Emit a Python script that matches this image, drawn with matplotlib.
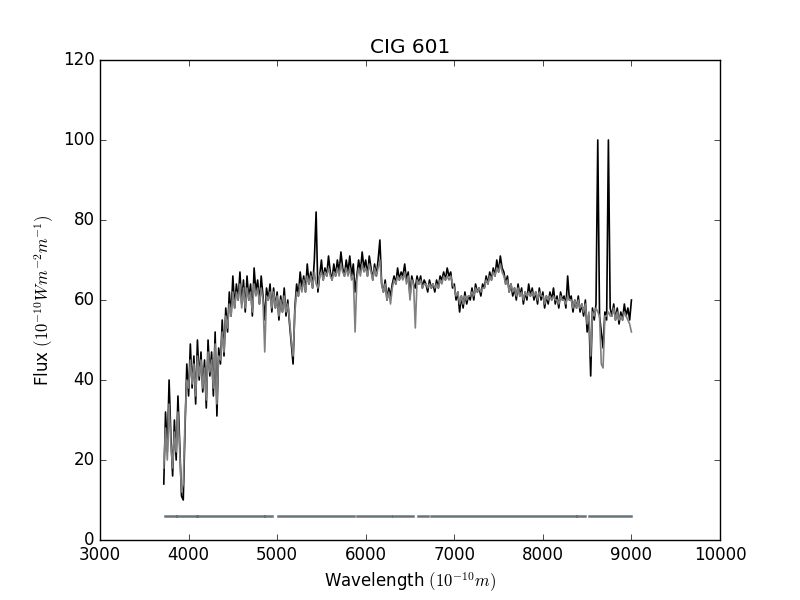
import numpy as np
import matplotlib
matplotlib.use('Agg')
import matplotlib.pyplot as plt

plt.style.use('classic')

# comprimento de onda (Angstrom), passo de 20
wl_start = 3720
wl_step = 20

# espectro observado (preto)
flux_obs = [
    14, 32, 22, 40, 26, 16, 30, 20, 36, 24,
    11, 10, 28, 44, 36, 49, 38, 46, 34, 50,
    40, 47, 37, 45, 33, 50, 41, 47, 36, 52,
    31, 48, 44, 55, 46, 58, 52, 62, 56, 66,
    58, 64, 60, 67, 59, 65, 57, 66, 60, 64,
    56, 68, 62, 65, 59, 66, 61, 55, 63, 60,
    64, 57, 63, 58, 62, 55, 61, 57, 63, 56,
    60, 54, 49, 44, 58, 64, 61, 67, 63, 66,
    62, 69, 64, 67, 63, 70, 82, 62, 66, 70,
    65, 68, 66, 71, 67, 65, 69, 66, 70, 67,
    72, 68, 66, 70, 67, 71, 66, 69, 62, 66,
    70, 67, 72, 68, 70, 66, 71, 68, 65, 69,
    66, 70, 75, 64, 62, 65, 60, 63, 61, 64,
    66, 64, 68, 65, 67, 66, 69, 65, 67, 61,
    66, 64, 63, 66, 64, 66, 63, 65, 64, 62,
    65, 63, 64, 62, 65, 63, 66, 65, 67, 65,
    68, 66, 67, 63, 64, 60, 62, 57, 61, 58,
    62, 59, 61, 60, 63, 60, 64, 62, 63, 61,
    64, 63, 66, 64, 67, 65, 68, 66, 70, 67,
    71, 68, 67, 64, 66, 62, 64, 61, 63, 60,
    64, 61, 63, 59, 62, 60, 64, 61, 63, 60,
    62, 59, 63, 60, 62, 58, 61, 59, 62, 60,
    63, 59, 61, 58, 62, 60, 61, 58, 66, 60,
    61, 57, 60, 58, 61, 57, 59, 56, 60, 52,
    56, 41, 58, 55, 59, 100, 56, 52, 48, 57,
    55, 100, 58, 56, 59, 55, 58, 54, 57, 55,
    59, 56, 58, 55, 60,
]

# modelo ajustado (cinza)
flux_mod = [
    18, 28, 20, 34, 24, 18, 27, 22, 32, 22,
    12, 14, 30, 40, 38, 45, 39, 44, 36, 46,
    41, 45, 38, 43, 35, 47, 42, 45, 38, 49,
    34, 46, 45, 52, 47, 56, 53, 59, 56, 62,
    58, 62, 60, 64, 58, 63, 58, 63, 60, 62,
    57, 64, 61, 63, 59, 63, 60, 47, 61, 60,
    62, 58, 62, 58, 61, 56, 60, 57, 61, 57,
    59, 55, 50, 46, 57, 62, 61, 64, 62, 65,
    62, 66, 64, 66, 63, 67, 64, 63, 66, 67,
    65, 67, 66, 68, 66, 65, 67, 66, 68, 66,
    69, 67, 66, 68, 66, 68, 65, 66, 52, 65,
    68, 66, 69, 67, 68, 66, 69, 67, 65, 68,
    66, 68, 70, 64, 62, 64, 60, 62, 59, 63,
    65, 64, 66, 65, 66, 65, 67, 64, 66, 60,
    65, 64, 53, 65, 64, 65, 63, 64, 64, 63,
    64, 63, 64, 63, 64, 63, 65, 64, 66, 65,
    66, 65, 66, 64, 63, 61, 62, 59, 61, 59,
    61, 60, 61, 61, 62, 61, 63, 62, 63, 62,
    63, 63, 65, 64, 66, 65, 67, 66, 68, 67,
    69, 67, 66, 64, 65, 62, 64, 62, 63, 61,
    63, 61, 62, 60, 62, 61, 62, 61, 62, 61,
    62, 60, 62, 61, 61, 59, 61, 60, 61, 60,
    61, 60, 60, 59, 61, 60, 60, 59, 61, 60,
    60, 58, 60, 58, 60, 58, 59, 57, 59, 54,
    57, 46, 57, 56, 58, 57, 56, 44, 43, 56,
    56, 57, 56, 56, 58, 55, 57, 55, 56, 55,
    57, 56, 55, 54, 52,
]

# regioes da mascara (inicio, fim)
mask_start = [3734, 3866, 4099, 4863, 5010, 5902, 6308, 6590, 6737, 8381, 8521]
mask_end = [3854, 4091, 4852, 4938, 5868, 6282, 6534, 6703, 8374, 8475, 8995]
mask_level = 6

wl = wl_start + wl_step * np.arange(len(flux_obs))

mx = []
my = []
for a, b in zip(mask_start, mask_end):
    mx += [a, b, np.nan]
    my += [mask_level, mask_level, np.nan]

fig = plt.figure(figsize=(8, 6), dpi=100, facecolor='white')
ax = fig.add_subplot(111)
ax.plot(wl, flux_obs, color='black', linewidth=1.2)
ax.plot(wl, flux_mod, color='0.5', linewidth=1.2)
ax.plot(mx, my, color='#67747c', linewidth=1.8)

ax.set_xlim(3000, 10000)
ax.set_ylim(0, 120)
ax.set_title('CIG 601')
ax.set_xlabel(r'Wavelength $(10^{-10} m)$')
ax.set_ylabel(r'Flux $(10^{-10} Wm^{-2}m^{-1})$')

fig.savefig('out.png', dpi=100, facecolor='white')
